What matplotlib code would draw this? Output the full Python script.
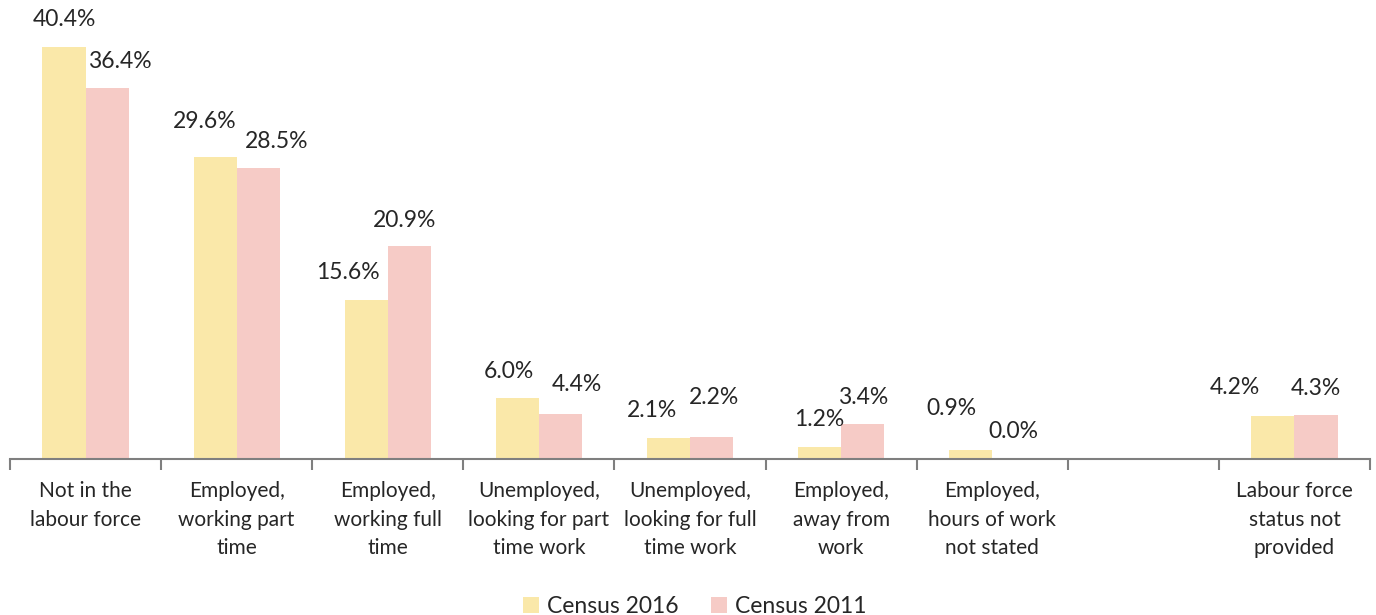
import numpy as np
import matplotlib
matplotlib.use("Agg")
import matplotlib.pyplot as plt
from matplotlib import ticker, transforms

categories = ["Not in the\nlabour force",
              "Employed,\nworking part\ntime",
              "Employed,\nworking full\ntime",
              "Unemployed,\nlooking for part\ntime work",
              "Unemployed,\nlooking for full\ntime work",
              "Employed,\naway from\nwork",
              "Employed,\nhours of work\nnot stated",
              "",
              "Labour force\nstatus not\nprovided"]
census_2016 = [40.4, 29.6, 15.6, 6.0, 2.1, 1.2, 0.9, np.nan, 4.2]
census_2011 = [36.4, 28.5, 20.9, 4.4, 2.2, 3.4, 0.0, np.nan, 4.3]
series_names = ["Census 2016", "Census 2011"]

# hand nudges of the value labels (pixels), as dragged in the original
nudge_2016 = [(0, 0), (-10, 9), (-18, 0), (-8, -1), (-16, 0), (0, 0), (-19, 14), (0, 0), (-38, 2)]
nudge_2011 = [(13, -1), (18, 0), (-5, -2), (16, 3), (2, 12), (0, 0), (0, 0), (0, 0), (0, 0)]

col_2016 = "#FAE8A9"
col_2011 = "#F6CBC6"
text_col = "#262626"

plt.rcParams['font.family'] = ['Lato', 'DejaVu Sans']

fig = plt.figure(figsize=(13.76, 6.15), dpi=100)
ax = fig.add_axes([10/1376, 156/615, 1360/1376, 1 - 156/615])

x = np.arange(len(categories))
w = 0.285
b1 = ax.bar(x - w/2, census_2016, w, color=col_2016, label=series_names[0])
b2 = ax.bar(x + w/2, census_2011, w, color=col_2011, label=series_names[1])

px = 72.0 / fig.dpi
for bars, vals, nudges in ((b1, census_2016, nudge_2016), (b2, census_2011, nudge_2011)):
    for rect, v, (dx, dy) in zip(bars, vals, nudges):
        if np.isnan(v):
            continue
        ax.annotate("{:.1f}%".format(v), (rect.get_x() + rect.get_width()/2, v),
                    xytext=(dx*px, (27 + dy)*px), textcoords='offset points',
                    ha='center', va='center', fontsize=16.5, color=text_col)

ax.set_xlim(-0.5, len(categories) - 0.5)
ax.set_ylim(0, 45)

for s in ['top', 'right', 'left']:
    ax.spines[s].set_visible(False)
ax.spines['bottom'].set_color('#7f7f7f')
ax.spines['bottom'].set_linewidth(1.5)
ax.set_yticks([])

ax.xaxis.set_major_locator(ticker.FixedLocator(np.arange(len(categories) + 1) - 0.5))
ax.xaxis.set_major_formatter(ticker.NullFormatter())
ax.tick_params(axis='x', which='major', length=8, width=1.5, color='#7f7f7f', direction='out')

# category labels drawn by hand so line spacing can be set
trans = transforms.blended_transform_factory(ax.transData, ax.transAxes)
for xi, lab in zip(x, categories):
    t = ax.text(xi, 0, lab, transform=trans, ha='center', va='top', fontsize=15,
                color=text_col, linespacing=1.54, multialignment='center')
    t.set_transform(trans + transforms.ScaledTranslation(0, -22/fig.dpi, fig.dpi_scale_trans))

leg = fig.legend(loc='lower center', bbox_to_anchor=(0.505, -0.037), ncol=2, frameon=False,
                 fontsize=16.5, handlelength=0.7, handleheight=0.7, handletextpad=0.35,
                 columnspacing=1.4, labelcolor=text_col)

fig.savefig("out.png", dpi=100)
